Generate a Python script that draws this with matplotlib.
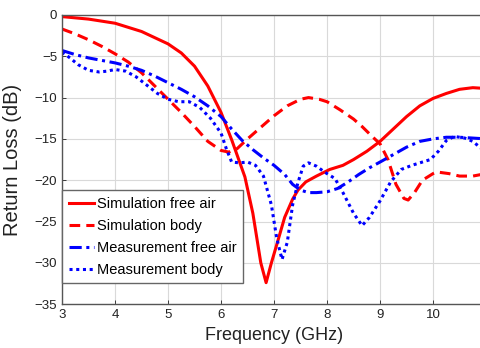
import matplotlib
matplotlib.use('Agg')
import matplotlib.pyplot as plt

plt.rcParams['font.family'] = ['Liberation Sans', 'DejaVu Sans']

# Simulation free air
f_sim_air = [3.0, 3.5, 4.0, 4.5, 5.0, 5.25, 5.5, 5.75, 6.0, 6.2, 6.45, 6.6, 6.75, 6.85,
             6.95, 7.06, 7.2, 7.35, 7.45, 7.6, 7.8, 8.05, 8.3, 8.5, 8.75, 9.0, 9.25,
             9.5, 9.75, 10.0, 10.25, 10.5, 10.75, 11.0]
rl_sim_air = [-0.2, -0.5, -1.0, -2.0, -3.5, -4.6, -6.2, -8.6, -11.8, -15.1, -19.6, -24.0,
              -30.0, -32.4, -30.0, -27.6, -24.5, -22.3, -21.2, -20.2, -19.5, -18.7, -18.2,
              -17.5, -16.5, -15.3, -13.8, -12.3, -11.0, -10.1, -9.5, -9.0, -8.8, -8.9]

# Simulation body
f_sim_body = [3.0, 3.25, 3.5, 3.75, 4.0, 4.25, 4.5, 4.75, 5.0, 5.25, 5.5, 5.75, 6.0, 6.15,
              6.3, 6.5, 6.75, 7.0, 7.25, 7.5, 7.65, 7.85, 8.0, 8.25, 8.5, 8.66, 8.85, 9.0,
              9.15, 9.3, 9.45, 9.53, 9.65, 9.8, 10.0, 10.07, 10.3, 10.5, 10.75, 11.0]
rl_sim_body = [-1.7, -2.3, -3.0, -3.8, -4.7, -5.7, -7.0, -8.6, -10.2, -11.8, -13.5, -15.3,
               -16.4, -16.6, -16.2, -15.0, -13.6, -12.2, -11.0, -10.2, -10.0, -10.2, -10.5,
               -11.5, -12.6, -13.5, -14.7, -15.6, -17.5, -20.5, -22.2, -22.4, -21.5, -20.0,
               -19.2, -19.0, -19.2, -19.5, -19.5, -19.2]

# Measurement free air
f_meas_air = [3.0, 3.25, 3.5, 3.75, 4.0, 4.25, 4.5, 4.75, 5.0, 5.25, 5.5, 5.75, 6.0, 6.2,
              6.4, 6.6, 6.8, 7.0, 7.2, 7.35, 7.5, 7.65, 7.8, 8.0, 8.2, 8.4, 8.6, 8.8, 9.0,
              9.25, 9.5, 9.75, 10.0, 10.25, 10.5, 10.75, 11.0]
rl_meas_air = [-4.3, -4.8, -5.2, -5.5, -5.8, -6.2, -6.7, -7.4, -8.2, -9.0, -9.9, -11.0,
               -12.3, -13.8, -15.2, -16.3, -17.3, -18.2, -19.3, -20.5, -21.2, -21.5, -21.5,
               -21.4, -21.0, -20.2, -19.3, -18.5, -17.8, -16.9, -16.0, -15.3, -15.0, -14.8,
               -14.8, -14.9, -15.0]

# Measurement body
f_meas_body = [3.0, 3.15, 3.3, 3.5, 3.7, 3.85, 4.0, 4.2, 4.4, 4.6, 4.8, 5.0, 5.2, 5.4, 5.6,
               5.8, 6.0, 6.1, 6.2, 6.35, 6.5, 6.65, 6.8, 6.95, 7.05, 7.15, 7.25, 7.35, 7.45,
               7.55, 7.65, 7.8, 7.95, 8.15, 8.3, 8.5, 8.66, 8.8, 9.0, 9.2, 9.4, 9.6, 9.8,
               9.95, 10.1, 10.25, 10.4, 10.6, 10.75, 10.9, 11.0]
rl_meas_body = [-4.5, -5.2, -6.0, -6.7, -6.9, -6.8, -6.6, -6.8, -7.5, -8.5, -9.5, -10.2,
                -10.5, -10.5, -11.2, -12.5, -14.3, -16.2, -17.8, -17.9, -17.8, -18.2, -19.5,
                -23.0, -27.0, -29.6, -27.5, -23.0, -20.3, -18.3, -17.9, -18.3, -19.0, -19.8,
                -21.5, -24.0, -25.5, -24.5, -22.5, -20.2, -18.7, -18.2, -17.8, -17.5, -16.5,
                -15.2, -14.7, -14.9, -15.3, -16.1, -16.6]

fig = plt.figure(figsize=(4.81, 3.48), dpi=100)
ax = fig.add_axes([0.129, 0.126, 0.8815, 0.831])

ax.plot(f_sim_air, rl_sim_air, color='#ff0000', lw=2.2, ls='-', label='Simulation free air')
ax.plot(f_sim_body, rl_sim_body, color='#ff0000', lw=2.2, ls=(0, (3.5, 2)), label='Simulation body')
ax.plot(f_meas_air, rl_meas_air, color='#0000ff', lw=2.2, ls=(0, (4, 1.5, 1, 1.5)), label='Measurement free air')
ax.plot(f_meas_body, rl_meas_body, color='#0000ff', lw=2.2, ls=(0, (1, 1.2)), label='Measurement body')

ax.set_xlim(3, 11)
ax.set_ylim(-35, 0)
ax.set_xticks([3, 4, 5, 6, 7, 8, 9, 10])
ax.set_yticks([0, -5, -10, -15, -20, -25, -30, -35])
ax.grid(True, color='#d9d9d9', lw=0.8)
ax.tick_params(direction='in', length=3, labelsize=9.5, colors='#222222', width=0.6)
for s in ax.spines.values():
    s.set_color('#555555')
    s.set_linewidth(1.0)

ax.set_xlabel('Frequency (GHz)', fontsize=13, color='#222222', labelpad=4)
ax.set_ylabel('Return Loss (dB)', fontsize=14.5, color='#222222', labelpad=9)

leg = ax.legend(loc='lower left', bbox_to_anchor=(0.0, 0.072), fontsize=10.5,
                handlelength=1.75, handletextpad=0.2, borderpad=0.45, labelspacing=0.55,
                fancybox=False, framealpha=1, borderaxespad=0)
leg.get_frame().set_edgecolor('#666666')
leg.get_frame().set_linewidth(1.0)

fig.savefig('out.png', dpi=100)
